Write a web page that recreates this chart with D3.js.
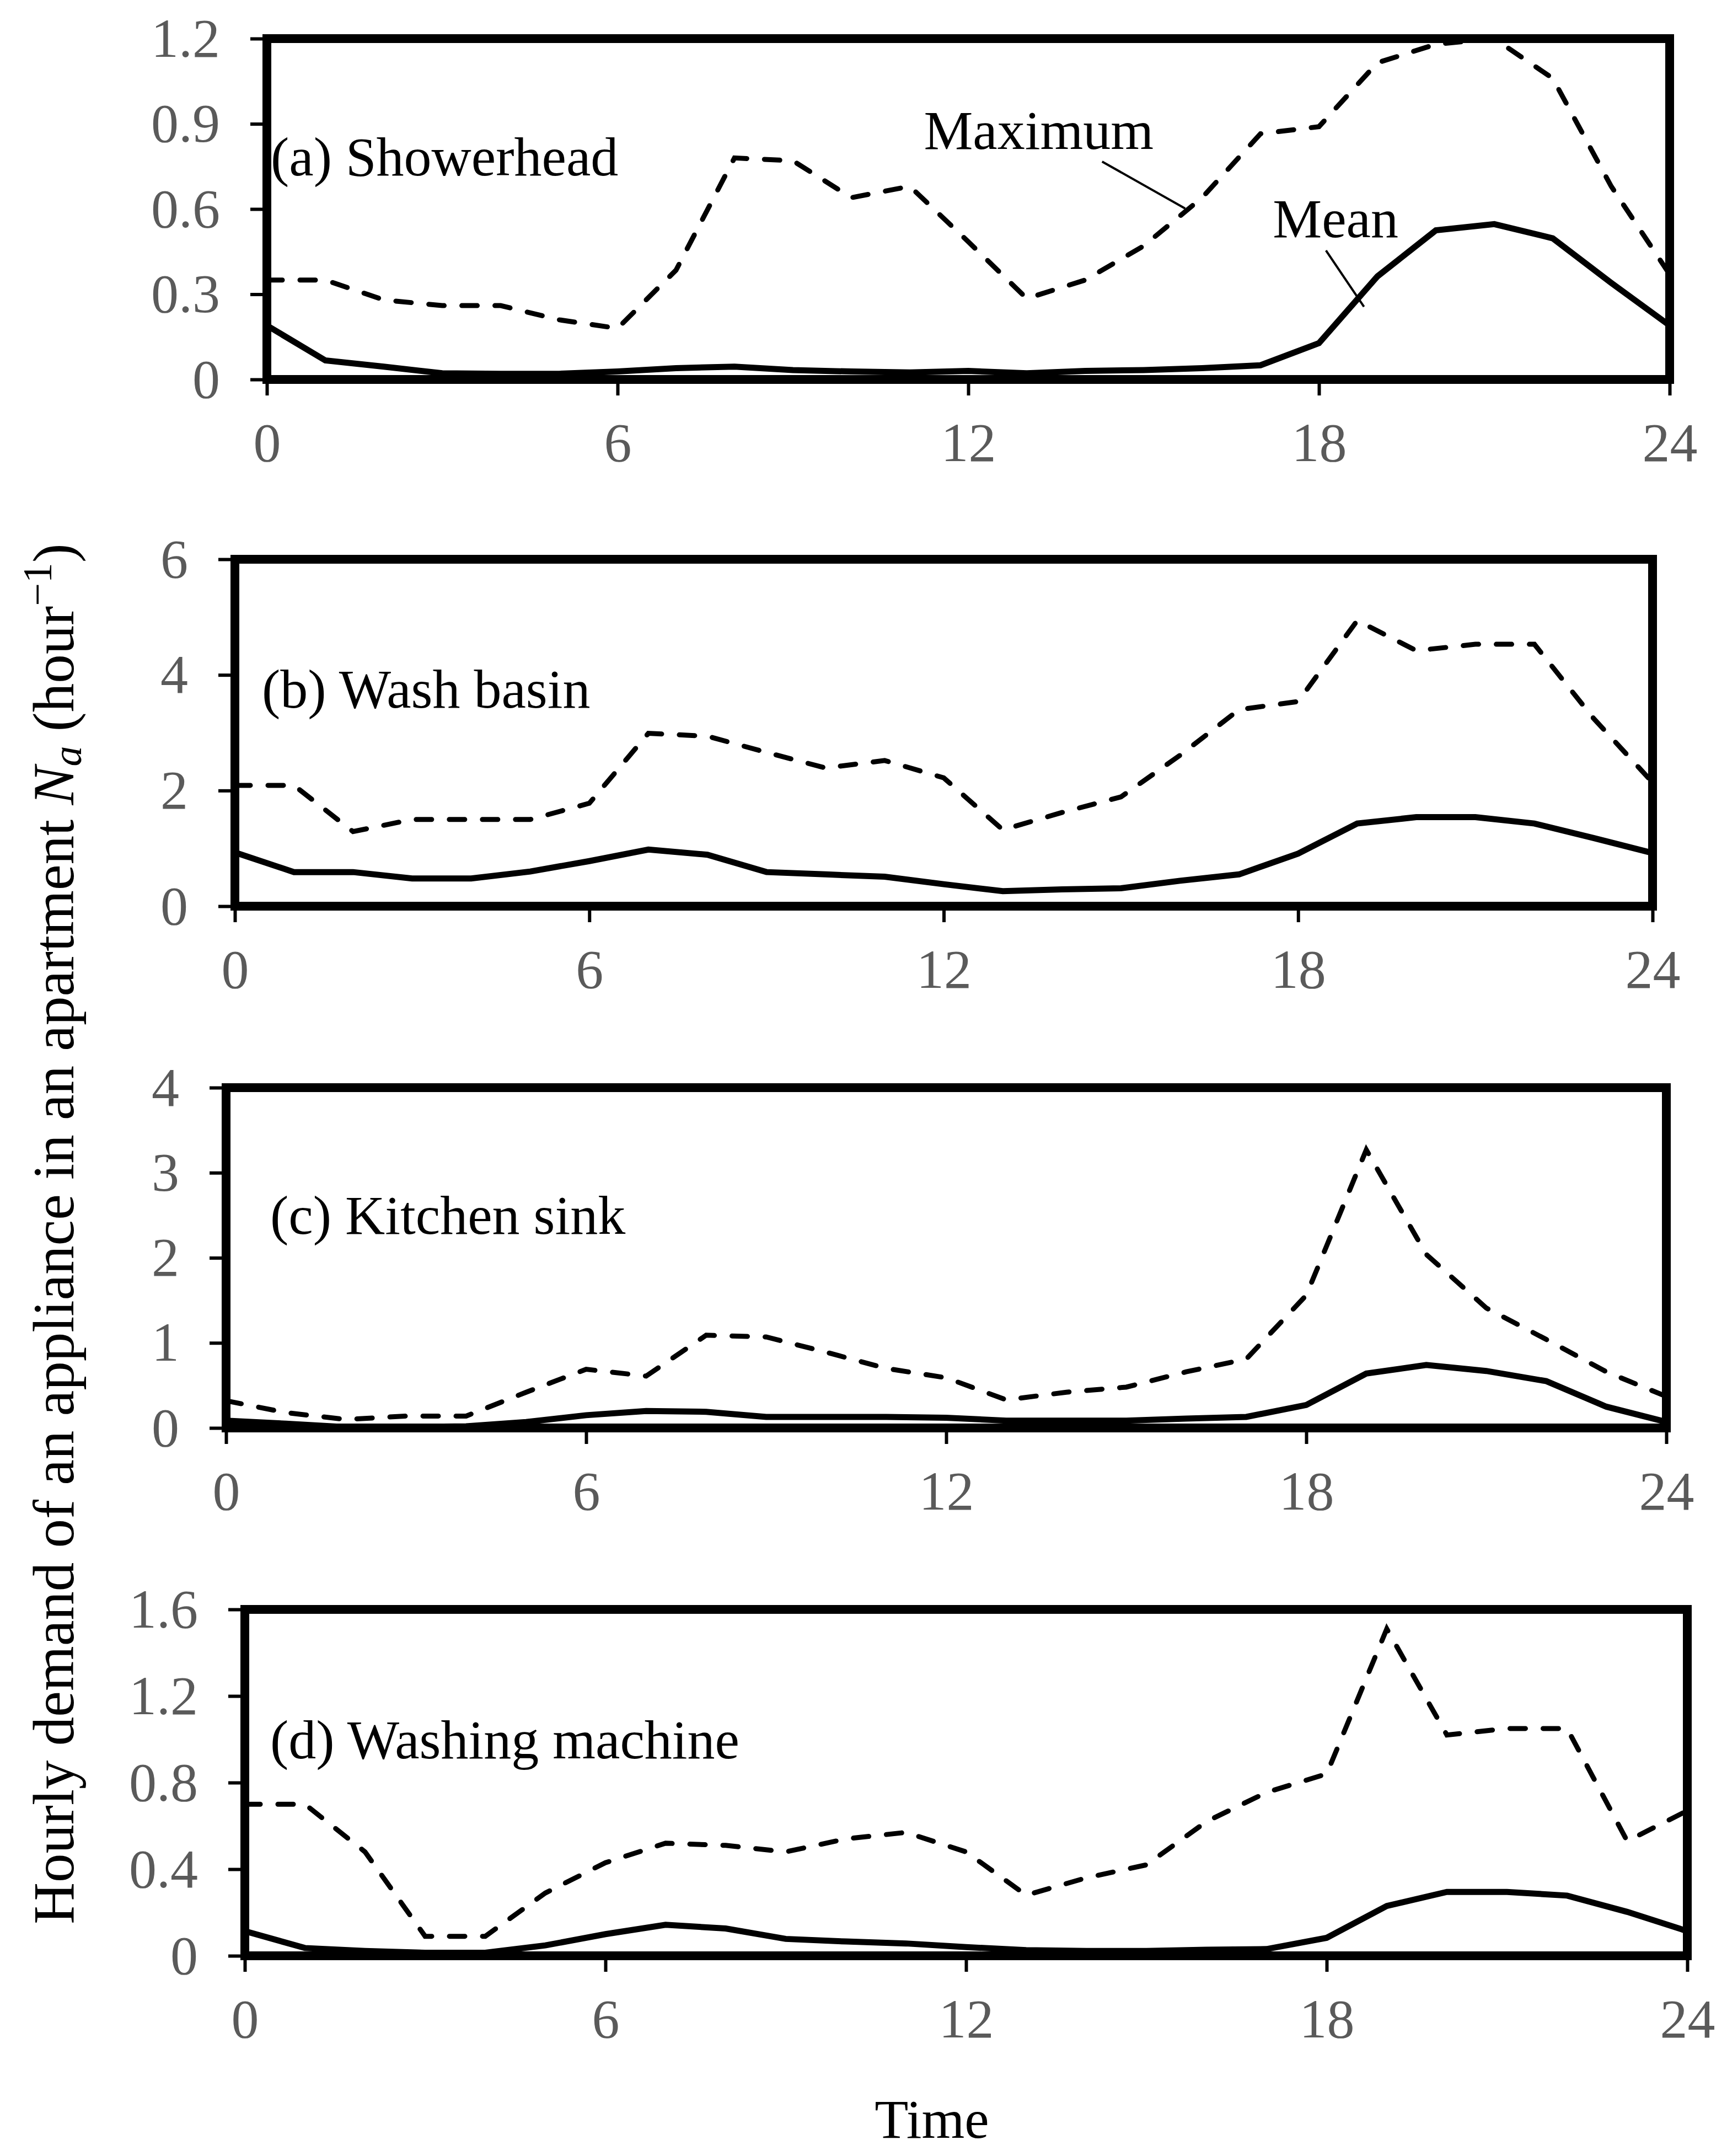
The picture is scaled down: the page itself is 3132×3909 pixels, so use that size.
<!DOCTYPE html>
<html>
<head>
<meta charset="utf-8">
<script src="https://cdn.jsdelivr.net/npm/d3@7"></script>
<style>
  body { margin: 0; background: #fff; }
  svg { display: block; }
  text { font-family: "Liberation Serif", "Times New Roman", serif; }
</style>
</head>
<body>
<div id="chart"></div>
<script>
// hours 0..24
var hours = d3.range(0, 25);

// (a) Showerhead
var showerMax  = [0.35,0.35,0.28,0.26,0.26,0.21,0.18,0.385,0.78,0.77,0.64,0.68,0.485,0.285,0.35,0.47,0.64,0.865,0.89,1.115,1.18,1.20,1.06,0.68,0.37];
var showerMean = [0.19,0.067,0.045,0.022,0.02,0.02,0.028,0.04,0.045,0.033,0.028,0.025,0.03,0.022,0.03,0.033,0.04,0.05,0.128,0.363,0.525,0.547,0.497,0.34,0.19];

// (b) Wash basin
var basinMax  = [2.09,2.09,1.29,1.50,1.50,1.50,1.78,2.99,2.94,2.66,2.39,2.52,2.22,1.32,1.62,1.89,2.61,3.40,3.54,4.94,4.42,4.53,4.53,3.25,2.14];
var basinMean = [0.93,0.59,0.59,0.48,0.48,0.60,0.78,0.98,0.89,0.59,0.55,0.51,0.38,0.26,0.29,0.31,0.44,0.55,0.91,1.43,1.54,1.54,1.43,1.18,0.92];

// (c) Kitchen sink
var sinkMax  = [0.32,0.18,0.10,0.14,0.14,0.42,0.69,0.61,1.09,1.07,0.89,0.70,0.59,0.33,0.42,0.48,0.66,0.81,1.56,3.27,2.04,1.41,1.04,0.66,0.37];
var sinkMean = [0.086,0.05,0.01,0.01,0.02,0.07,0.15,0.20,0.19,0.13,0.13,0.13,0.12,0.086,0.086,0.086,0.11,0.13,0.27,0.64,0.74,0.67,0.55,0.25,0.07];

// (d) Washing machine
var washerMax  = [0.70,0.70,0.48,0.09,0.09,0.29,0.43,0.52,0.51,0.48,0.54,0.57,0.48,0.28,0.36,0.42,0.62,0.755,0.84,1.51,1.02,1.05,1.05,0.53,0.67];
var washerMean = [0.114,0.036,0.022,0.014,0.014,0.048,0.10,0.143,0.126,0.078,0.066,0.057,0.04,0.026,0.022,0.022,0.028,0.031,0.083,0.23,0.295,0.295,0.278,0.203,0.114];

var panelTitles = ["(a) Showerhead", "(b) Wash basin", "(c) Kitchen sink", "(d) Washing machine"];
var yTicks = [[0,0.3,0.6,0.9,1.2], [0,2,4,6], [0,1,2,3,4], [0,0.4,0.8,1.2,1.6]];
var xTicks = [0,6,12,18,24];
var maxSeries  = [showerMax, basinMax, sinkMax, washerMax];
var meanSeries = [showerMean, basinMean, sinkMean, washerMean];

// annotation of panel (a), in data units
var annoLabels = ["Maximum", "Mean"];
var annoText = [[11.24, 0.812], [17.21, 0.501]];
var annoLine = [[[14.29, 0.767], [15.71, 0.602]], [[18.12, 0.454], [18.77, 0.256]]];

// plot boxes in pixels (left, right, top, bottom)
var boxes = [
  [484, 3028, 70, 688],
  [426, 2997, 1014, 1643],
  [410, 3022, 1972, 2589],
  [444, 3060, 2918, 3546]
];
var titleOffset = [[7, 248], [49, 269], [80, 265], [46, 270]];

var width = 3132, height = 3909;
var svg = d3.select("#chart").append("svg")
    .attr("width", width)
    .attr("height", height);

var fs = 100;
var tickGray = "#5a5a5a";

for (var p = 0; p < 4; p++) {
    var b = boxes[p];
    var x = d3.scaleLinear().domain([0, 24]).range([b[0], b[1]]);
    var y = d3.scaleLinear().domain([0, yTicks[p][yTicks[p].length - 1]]).range([b[3], b[2]]);
    var g = svg.append("g");

    var line = d3.line()
        .x(function(d, i) { return x(hours[i]); })
        .y(function(d) { return y(d); });

    // maximum (dashed)
    g.append("path")
        .datum(maxSeries[p])
        .attr("d", line)
        .attr("fill", "none")
        .attr("stroke", "#000")
        .attr("stroke-width", 9)
        .attr("stroke-linecap", "round")
        .attr("stroke-dasharray", "28,32");

    // mean (solid)
    g.append("path")
        .datum(meanSeries[p])
        .attr("d", line)
        .attr("fill", "none")
        .attr("stroke", "#000")
        .attr("stroke-width", 11)
        .attr("stroke-linejoin", "miter");

    // y axis
    var yAxis = g.append("g")
        .attr("transform", "translate(" + b[0] + ",0)")
        .call(d3.axisLeft(y).tickValues(yTicks[p]).tickFormat(d3.format("")).tickSizeOuter(0).tickSize(30).tickPadding(55));
    yAxis.select(".domain").remove();
    yAxis.selectAll("line").attr("stroke", "#000").attr("stroke-width", 6);
    yAxis.selectAll("text")
        .attr("fill", tickGray)
        .style("font-size", fs + "px")
        .style("font-family", "Liberation Serif, Times New Roman, serif");

    // x axis
    var xAxis = g.append("g")
        .attr("transform", "translate(0," + b[3] + ")")
        .call(d3.axisBottom(x).tickValues(xTicks).tickSizeOuter(0).tickSize(29).tickPadding(48));
    xAxis.select(".domain").remove();
    xAxis.selectAll("line").attr("stroke", "#000").attr("stroke-width", 6);
    xAxis.selectAll("text")
        .attr("fill", tickGray)
        .style("font-size", fs + "px")
        .style("font-family", "Liberation Serif, Times New Roman, serif");

    // frame
    g.append("rect")
        .attr("x", b[0])
        .attr("y", b[2])
        .attr("width", b[1] - b[0])
        .attr("height", b[3] - b[2])
        .attr("fill", "none")
        .attr("stroke", "#000")
        .attr("stroke-width", 16);

    // panel title
    g.append("text")
        .attr("x", b[0] + titleOffset[p][0])
        .attr("y", b[2] + titleOffset[p][1])
        .style("font-size", fs + "px")
        .attr("fill", "#000")
        .text(panelTitles[p]);

    if (p === 0) {
        for (var k = 0; k < annoLabels.length; k++) {
            g.append("text")
                .attr("x", x(annoText[k][0]))
                .attr("y", y(annoText[k][1]))
                .style("font-size", fs + "px")
                .text(annoLabels[k]);
            g.append("line")
                .attr("x1", x(annoLine[k][0][0]))
                .attr("y1", y(annoLine[k][0][1]))
                .attr("x2", x(annoLine[k][1][0]))
                .attr("y2", y(annoLine[k][1][1]))
                .attr("stroke", "#000")
                .attr("stroke-width", 4);
        }
    }
}

// y axis title
var yt = svg.append("text")
    .attr("transform", "translate(133,2237) rotate(-90)")
    .attr("text-anchor", "middle")
    .style("font-size", "105px");
yt.append("tspan").text("Hourly demand of an appliance in an apartment ");
yt.append("tspan").style("font-style", "italic").text("N");
yt.append("tspan").style("font-style", "italic").style("font-size", "74px").attr("dy", 14).text("a");
yt.append("tspan").attr("dy", -14).text(" (hour");
yt.append("tspan").style("font-size", "74px").attr("dy", -40).text("\u22121");
yt.append("tspan").attr("dy", 40).text(")");

// x axis title
svg.append("text")
    .attr("x", 1690)
    .attr("y", 3876)
    .attr("text-anchor", "middle")
    .style("font-size", fs + "px")
    .text("Time");
</script>
</body>
</html>
